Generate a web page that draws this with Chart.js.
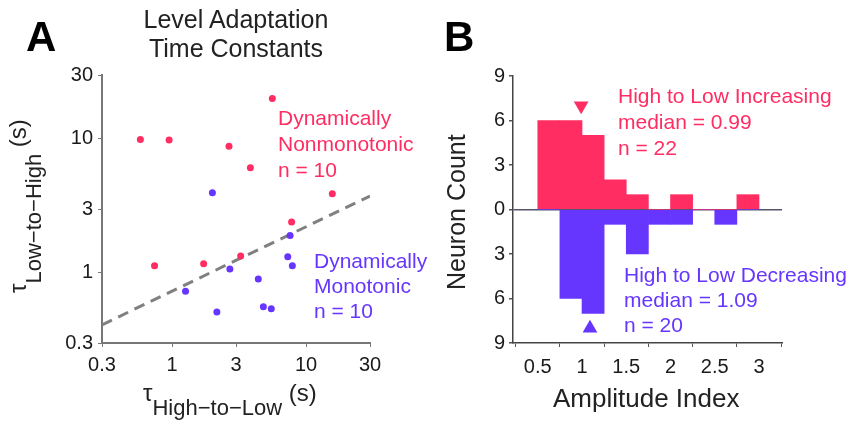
<!DOCTYPE html>
<html>
<head>
<meta charset="utf-8">
<script src="https://cdn.jsdelivr.net/npm/chart.js@4.4.1/dist/chart.umd.min.js"></script>
<style>
  body { margin: 0; background: #fff; width: 853px; height: 425px; overflow: hidden; position: relative;
         font-family: 'Liberation Sans', Arial, sans-serif; }
  canvas { position: absolute; top: 0; }
  .t { position: absolute; white-space: nowrap; line-height: 1; color: #222; }
  .sub { font-size: 22px; position: relative; top: 14px; }
  .red { color: #ff2d62; }
  .blue { color: #6636ff; }
</style>
</head>
<body>
<canvas id="chartA" width="420" height="425" style="left:0"></canvas>
<canvas id="chartB" width="433" height="425" style="left:420px"></canvas>

<div class="t" style="left:26px; top:16px; font-size:42px; font-weight:bold; color:#000">A</div>
<div class="t" style="left:444px; top:16px; font-size:42px; font-weight:bold; color:#000">B</div>
<div class="t" style="left:106px; width:260px; top:7px; font-size:25px; text-align:center">Level Adaptation</div>
<div class="t" style="left:106px; width:260px; top:36px; font-size:25px; text-align:center">Time Constants</div>

<div class="t red" style="left:278px; top:105px; font-size:21px; line-height:26px">Dynamically<br>Nonmonotonic<br>n = 10</div>
<div class="t blue" style="left:314px; top:248px; font-size:21px; line-height:25px">Dynamically<br>Monotonic<br>n = 10</div>

<div class="t" style="left:143px; top:381px; font-size:24px">τ<span class="sub">High−to−Low</span> (s)</div>
<div class="t" style="left:0; top:0; font-size:24px; transform-origin:0 0; transform:translate(6px,293px) rotate(-90deg)">τ<span class="sub" style="top:15px">Low−to−High</span> (s)</div>

<div class="t red" style="left:618px; top:83px; font-size:21px; line-height:26px">High to Low Increasing<br>median = 0.99<br>n = 22</div>
<div class="t blue" style="left:624px; top:262px; font-size:21px; line-height:25px">High to Low Decreasing<br>median = 1.09<br>n = 20</div>

<div class="t" style="left:0; top:0; font-size:25px; transform-origin:0 0; transform:translate(444px,290px) rotate(-90deg)">Neuron Count</div>
<div class="t" style="left:553px; top:385px; font-size:26px">Amplitude Index</div>

<script>
// panel A: time constants (s)
const redX = [0.58, 0.95, 2.66, 5.6, 3.84, 15.7, 7.8, 3.25, 1.72, 0.74];
const redY = [9.9, 9.8, 8.8, 20, 6.1, 3.9, 2.4, 1.34, 1.17, 1.13];
const blueX = [2.0, 7.6, 7.3, 7.9, 2.7, 4.4, 1.26, 2.16, 4.8, 5.5];
const blueY = [3.97, 1.9, 1.32, 1.13, 1.07, 0.9, 0.73, 0.51, 0.56, 0.54];
const fitX = [0.3, 30];
const fitY = [0.41, 3.75];
const logTicks = [0.3, 1, 3, 10, 30];

// panel B: amplitude index histogram
const binCenters = [0.625, 0.875, 1.125, 1.375, 1.625, 1.875, 2.125, 2.375, 2.625, 2.875];
const incCounts = [6, 6, 5, 2, 1, 0, 1, 0, 0, 1];
const decCounts = [0, 6, 7, 1, 3, 1, 1, 0, 1, 0];
const medians = [0.99, 1.09];
const medianMarkY = [7, -8];
const countTicks = [-9, -6, -3, 0, 3, 6, 9];
const ampTicks = [0.5, 1, 1.5, 2, 2.5, 3];

const RED = '#ff2d62';
const BLUE = '#6636ff';
const tickFont = { family: "'Liberation Sans', Arial, sans-serif", size: 20 };

function pts(xs, ys) {
  let out = [];
  for (let i in xs) out.push({ x: xs[i], y: ys[i] });
  return out;
}

new Chart(document.getElementById('chartA'), {
  type: 'scatter',
  data: {
    datasets: [
      { data: pts(redX, redY), backgroundColor: RED, borderWidth: 0, pointRadius: 3.5, order: 1 },
      { data: pts(blueX, blueY), backgroundColor: BLUE, borderWidth: 0, pointRadius: 3.5, order: 1 },
      { data: pts(fitX, fitY), showLine: true, pointRadius: 0, borderColor: '#808080',
        borderWidth: 3, borderDash: [11, 7], order: 2 }
    ]
  },
  options: {
    responsive: false,
    animation: false,
    devicePixelRatio: 1,
    layout: { padding: { top: 75, right: 50, left: 0, bottom: 0 } },
    plugins: { legend: { display: false }, tooltip: { enabled: false } },
    scales: {
      x: {
        type: 'logarithmic', min: 0.3, max: 30,
        afterBuildTicks: (axis) => { axis.ticks = logTicks.map(v => ({ value: v })); },
        afterFit: (s) => { s.height = 82; },
        ticks: { font: tickFont, color: '#1a1a1a', padding: 6, maxRotation: 0, autoSkip: false,
                 callback: (v) => String(v) },
        grid: { drawOnChartArea: false, tickLength: 4, tickColor: '#777' },
        border: { color: '#777', width: 2 }
      },
      y: {
        type: 'logarithmic', min: 0.3, max: 30,
        afterBuildTicks: (axis) => { axis.ticks = logTicks.map(v => ({ value: v })); },
        afterFit: (s) => { s.width = 102; },
        ticks: { font: tickFont, color: '#1a1a1a', padding: 5, autoSkip: false,
                 callback: (v) => String(v) },
        grid: { drawOnChartArea: false, tickLength: 4, tickColor: '#777' },
        border: { color: '#777', width: 2 }
      }
    }
  }
});

new Chart(document.getElementById('chartB'), {
  type: 'bar',
  data: {
    datasets: [
      { data: pts(binCenters, incCounts), backgroundColor: RED, borderWidth: 0, grouped: false,
        barPercentage: 1, categoryPercentage: 1, order: 2 },
      { data: pts(binCenters, decCounts.map(v => -v)), backgroundColor: BLUE, borderWidth: 0, grouped: false,
        barPercentage: 1, categoryPercentage: 1, order: 2 },
      { type: 'scatter', data: [{ x: medians[0], y: medianMarkY[0] }], pointStyle: 'triangle', rotation: 180,
        pointRadius: 8.5, backgroundColor: RED, borderWidth: 0, order: 1 },
      { type: 'scatter', data: [{ x: medians[1], y: medianMarkY[1] }], pointStyle: 'triangle',
        pointRadius: 8.5, backgroundColor: BLUE, borderWidth: 0, order: 1 }
    ]
  },
  options: {
    responsive: false,
    animation: false,
    devicePixelRatio: 1,
    layout: { padding: { top: 76, right: 71, left: 0, bottom: 0 } },
    plugins: { legend: { display: false }, tooltip: { enabled: false } },
    scales: {
      x: {
        type: 'linear', min: 0.22, max: 3.26, offset: false,
        afterBuildTicks: (axis) => { axis.ticks = ampTicks.map(v => ({ value: v })); },
        afterFit: (s) => { s.height = 82; },
        ticks: { font: tickFont, color: '#1a1a1a', padding: 8, maxRotation: 0, autoSkip: false,
                 callback: (v) => String(v) },
        grid: { drawOnChartArea: false, tickLength: 4, tickColor: '#555' },
        border: { color: '#444', width: 1.5 }
      },
      y: {
        min: -9, max: 9,
        afterBuildTicks: (axis) => { axis.ticks = countTicks.map(v => ({ value: v })); },
        afterFit: (s) => { s.width = 93; },
        ticks: { font: tickFont, color: '#1a1a1a', padding: 4, autoSkip: false,
                 callback: (v) => String(Math.abs(v)) },
        grid: {
          color: (c) => (c.tick && c.tick.value === 0) ? '#55556e' : 'rgba(0,0,0,0)',
          lineWidth: 1.5, tickColor: '#555', tickLength: 4
        },
        border: { color: '#444', width: 1.5 }
      }
    }
  }
});
</script>
</body>
</html>
